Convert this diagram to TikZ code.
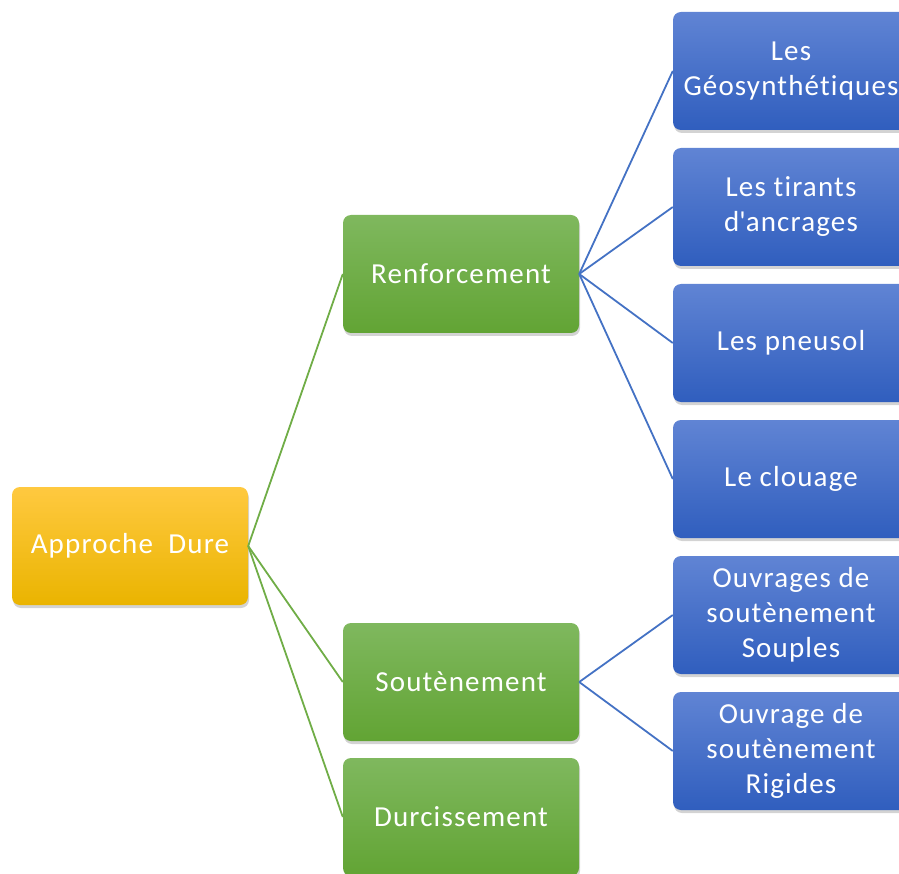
\documentclass[tikz,border=0pt]{standalone}
\usepackage{fontspec}
\setmainfont{Carlito}[Ligatures={NoCommon}, LetterSpace=4]
\usetikzlibrary{shadows}
\definecolor{rootTop}{RGB}{255,201,64}
\definecolor{rootBot}{RGB}{234,180,0}
\definecolor{greenTop}{RGB}{127,184,94}
\definecolor{greenBot}{RGB}{98,164,52}
\definecolor{blueTop}{RGB}{96,132,212}
\definecolor{blueBot}{RGB}{48,94,190}
\definecolor{greenLine}{RGB}{112,173,71}
\definecolor{blueLine}{RGB}{68,114,196}
\tikzset{
  box/.style={rounded corners=8pt, minimum width=236pt, minimum height=118pt,
    inner sep=0pt, align=center, text=white,
    font=\fontsize{29}{35}\selectfont,
    drop shadow={opacity=0.35, shadow xshift=1pt, shadow yshift=-3pt}},
  rootbox/.style={box, top color=rootTop, bottom color=rootBot},
  greenbox/.style={box, top color=greenTop, bottom color=greenBot},
  bluebox/.style={box, top color=blueTop, bottom color=blueBot},
  glink/.style={draw=greenLine, line width=1.8pt},
  blink/.style={draw=blueLine, line width=1.8pt}
}
\begin{document}
\begin{tikzpicture}[x=1pt,y=-1pt]
\useasboundingbox (0,0) rectangle (899,874);
\clip (0,0) rectangle (899,874);
% root
\node[rootbox] (root) at (130,546) {Approche\ \ Dure};
% second level
\node[greenbox] (ren) at (461,274) {Renforcement};
\node[greenbox] (sou) at (461,682) {Soutènement};
\node[greenbox] (dur) at (461,817) {Durcissement};
% third level
\node[bluebox] (geo) at (791,71)  {Les\\Géosynthétiques};
\node[bluebox] (tir) at (791,207) {Les tirants\\d\textquotesingle ancrages};
\node[bluebox] (pne) at (791,343) {Les pneusol};
\node[bluebox] (clo) at (791,479) {Le clouage};
\node[bluebox] (sou1) at (791,615) {Ouvrages de\\soutènement\\Souples};
\node[bluebox] (sou2) at (791,751) {Ouvrage de\\soutènement\\Rigides};
% connectors
\draw[glink] (root.east) -- (ren.west);
\draw[glink] (root.east) -- (sou.west);
\draw[glink] (root.east) -- (dur.west);
\foreach \t in {geo,tir,pne,clo}
  \draw[blink] (ren.east) -- (\t.west);
\foreach \t in {sou1,sou2}
  \draw[blink] (sou.east) -- (\t.west);
\end{tikzpicture}
\end{document}
